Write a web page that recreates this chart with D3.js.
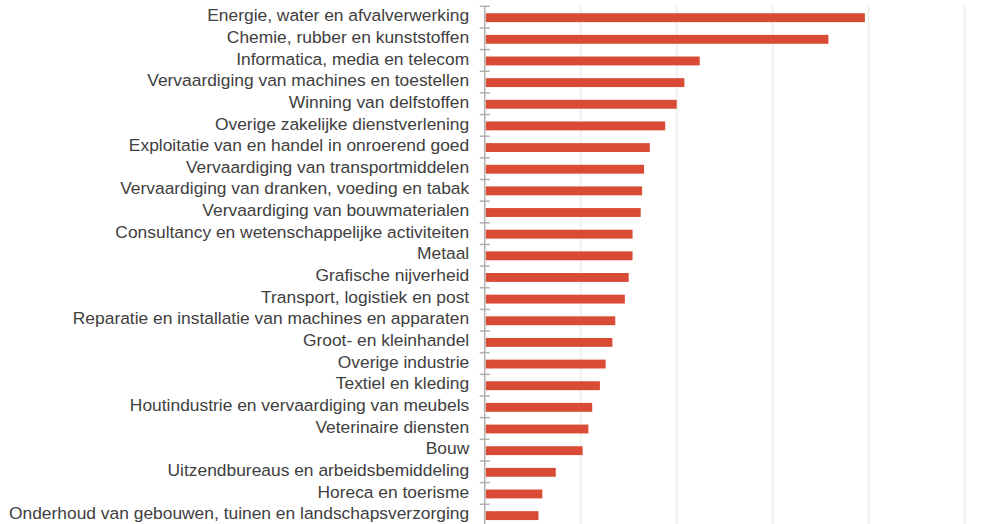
<!DOCTYPE html>
<html lang="nl">
  <head>
    <meta charset="UTF-8" />
    <title>Sectoren</title>
    <script src="https://d3js.org/d3.v7.min.js"></script>
    <style>
      body {
        margin: 0;
        background: #fff;
        font-family: "Liberation Sans", Arial, sans-serif;
      }
      .label {
        font-size: 17.4px;
        fill: #404040;
      }
      .grid line {
        stroke: #ececec;
        stroke-width: 1.5px;
      }
      .axis-line,
      .tick-mark {
        stroke: #b0b0b0;
        stroke-width: 1.5px;
      }
      .bar {
        fill: #d94b34;
      }
    </style>
  </head>
  <body>
    <svg width="982" height="524"></svg>

    <script>
      // sectoren, van boven naar beneden
      const sectors = [
        "Energie, water en afvalverwerking",
        "Chemie, rubber en kunststoffen",
        "Informatica, media en telecom",
        "Vervaardiging van machines en toestellen",
        "Winning van delfstoffen",
        "Overige zakelijke dienstverlening",
        "Exploitatie van en handel in onroerend goed",
        "Vervaardiging van transportmiddelen",
        "Vervaardiging van dranken, voeding en tabak",
        "Vervaardiging van bouwmaterialen",
        "Consultancy en wetenschappelijke activiteiten",
        "Metaal",
        "Grafische nijverheid",
        "Transport, logistiek en post",
        "Reparatie en installatie van machines en apparaten",
        "Groot- en kleinhandel",
        "Overige industrie",
        "Textiel en kleding",
        "Houtindustrie en vervaardiging van meubels",
        "Veterinaire diensten",
        "Bouw",
        "Uitzendbureaus en arbeidsbemiddeling",
        "Horeca en toerisme",
        "Onderhoud van gebouwen, tuinen en landschapsverzorging",
      ];

      // geschatte waarden
      const values = [
        3.96, 3.58, 2.24, 2.08, 2.0, 1.88, 1.72, 1.66, 1.64, 1.625, 1.54, 1.54,
        1.5, 1.46, 1.36, 1.33, 1.26, 1.2, 1.12, 1.08, 1.02, 0.74, 0.6, 0.56,
      ];

      // rasterlijnen
      const gridTicks = [1, 2, 3, 4, 5];

      const data = sectors.map((s, i) => ({ name: s, value: values[i] }));

      const svg = d3.select("svg");
      const margin = { top: 6.3, left: 484.7 };
      const plotW = 480;
      const plotH = 21.65 * sectors.length;

      const x = d3.scaleLinear().domain([0, 5]).range([0, plotW]);
      const y = d3
        .scaleBand()
        .domain(sectors)
        .range([0, plotH])
        .padding(0);

      const g = svg
        .append("g")
        .attr("transform", `translate(${margin.left},${margin.top})`);

      // verticale rasterlijnen
      g.append("g")
        .attr("class", "grid")
        .selectAll("line")
        .data(gridTicks)
        .join("line")
        .attr("x1", (d) => x(d))
        .attr("x2", (d) => x(d))
        .attr("y1", 0)
        .attr("y2", plotH);

      // balken
      g.selectAll(".bar")
        .data(data)
        .join("rect")
        .attr("class", "bar")
        .attr("x", x(0) + 1)
        .attr("y", (d) => y(d.name) + y.bandwidth() * 0.32)
        .attr("width", (d) => x(d.value) - x(0) - 1)
        .attr("height", y.bandwidth() * 0.41);

      // as en streepjes op de bandgrenzen
      g.append("line")
        .attr("class", "axis-line")
        .attr("x1", 0)
        .attr("x2", 0)
        .attr("y1", 0)
        .attr("y2", plotH);

      g.selectAll(".tick-mark")
        .data(sectors)
        .join("line")
        .attr("class", "tick-mark")
        .attr("x1", -5)
        .attr("x2", 5)
        .attr("y1", (d) => y(d))
        .attr("y2", (d) => y(d));

      // labels
      g.selectAll(".label")
        .data(data)
        .join("text")
        .attr("class", "label")
        .attr("x", -15.5)
        .attr("y", (d) => y(d.name) + y.bandwidth() / 2)
        .attr("dy", "0.24em")
        .attr("text-anchor", "end")
        .text((d) => d.name);
    </script>
  </body>
</html>
